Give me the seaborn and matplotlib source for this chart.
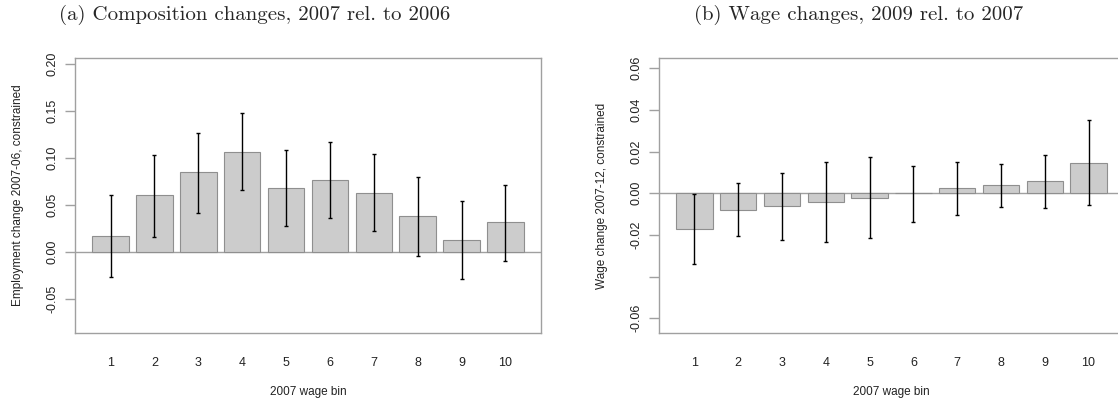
import matplotlib
matplotlib.use('Agg')
import matplotlib.pyplot as plt
import seaborn as sns
import numpy as np

# wage bins (x categories)
bins = ['1', '2', '3', '4', '5', '6', '7', '8', '9', '10']

# panel (a): employment change 2007-06, with CI bounds
emp_change = [0.0164, 0.0601, 0.0847, 0.1060, 0.0680, 0.0765, 0.0626, 0.0377, 0.0121, 0.0313]
emp_hi = [0.0601, 0.1036, 0.1270, 0.1477, 0.1085, 0.1170, 0.1039, 0.0800, 0.0544, 0.0715]
emp_lo = [-0.0270, 0.0160, 0.0416, 0.0655, 0.0278, 0.0360, 0.0217, -0.0043, -0.0292, -0.0096]

# panel (b): wage change 2007-12, with CI bounds
wage_change = [-0.0173, -0.0082, -0.0062, -0.0043, -0.0024, 0.0000, 0.0024, 0.0038, 0.0058, 0.0146]
wage_hi = [-0.0005, 0.0048, 0.0096, 0.0150, 0.0173, 0.0133, 0.0150, 0.0142, 0.0184, 0.0350]
wage_lo = [-0.0338, -0.0206, -0.0224, -0.0234, -0.0214, -0.0136, -0.0106, -0.0066, -0.0070, -0.0058]

sns.set_style('white')
plt.rcParams['font.family'] = ['Liberation Sans', 'DejaVu Sans']

fig = plt.figure(figsize=(11.18, 4.03), dpi=100)
ax_a = fig.add_axes([75 / 1118, 70 / 403, 466 / 1118, 275 / 403])
ax_b = fig.add_axes([659 / 1118, 70 / 403, 465 / 1118, 275 / 403])

grey = '#a0a0a0'


def draw_panel(ax, vals, lo, hi, ylim, yticks, yticklabels, ylabel):
    ax.axhline(0, color=grey, lw=1.0, zorder=0)
    sns.barplot(x=bins, y=vals, color='#cccccc', width=1 / 1.2, edgecolor='#8f8f8f',
                linewidth=0.8, saturation=1, ax=ax, zorder=2)
    vals = np.array(vals)
    yerr = [vals - np.array(lo), np.array(hi) - vals]
    ax.errorbar(np.arange(len(bins)), vals, yerr=yerr, fmt='none', ecolor='black',
                elinewidth=1.0, capsize=1.3, capthick=1.0, zorder=3)
    ax.set_xlim(-0.81, 9.81)
    ax.set_ylim(*ylim)
    ax.set_yticks(yticks)
    ax.set_yticklabels(yticklabels, rotation=90, va='center', fontsize=9)
    ax.tick_params(axis='y', direction='out', length=7, width=1, color=grey, pad=5,
                   left=True, labelcolor='#222222')
    ax.tick_params(axis='x', length=0, pad=17, labelsize=9, labelcolor='#222222')
    for s in ax.spines.values():
        s.set_visible(True)
        s.set_color(grey)
        s.set_linewidth(1.0)
    ax.set_xlabel('2007 wage bin', fontsize=8.5, color='#222222')
    ax.xaxis.set_label_coords(0.5, -0.2145)
    ax.xaxis.label.set_va('center')
    ax.set_ylabel(ylabel, fontsize=8.5, color='#222222')
    ax.yaxis.set_label_coords(-0.1223, 0.5)
    ax.yaxis.label.set_va('center')


draw_panel(ax_a, emp_change, emp_lo, emp_hi, (-0.0868, 0.2067),
           [-0.05, 0.0, 0.05, 0.10, 0.15, 0.20],
           ['-0.05', '0.00', '0.05', '0.10', '0.15', '0.20'],
           'Employment change 2007-06, constrained')
draw_panel(ax_b, wage_change, wage_lo, wage_hi, (-0.0671, 0.0649),
           [-0.06, -0.04, -0.02, 0.0, 0.02, 0.04, 0.06],
           ['-0.06', '', '-0.02', '0.00', '0.02', '0.04', '0.06'],
           'Wage change 2007-12, constrained')

# subfigure captions in a LaTeX-like serif face
fig.text(254.5 / 1118, 1 - 15 / 403, '(a) Composition changes, 2007 rel. to 2006',
         ha='center', va='center', fontsize=15, family='cmr10')
fig.text(859 / 1118, 1 - 15 / 403, '(b) Wage changes, 2009 rel. to 2007',
         ha='center', va='center', fontsize=15, family='cmr10')

fig.savefig('out.png', dpi=100)
